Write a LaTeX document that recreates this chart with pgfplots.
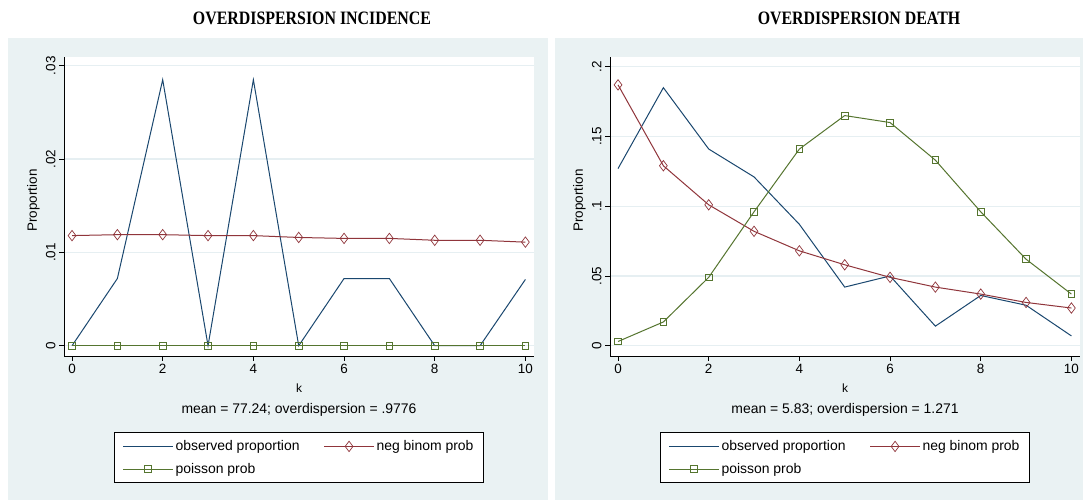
\documentclass[border=0pt]{standalone}
\usepackage{fontspec}
\setmainfont{Liberation Sans}
\newfontfamily\titlefont{Liberation Serif}
\usepackage{pgfplots}
\pgfplotsset{compat=1.18}
\definecolor{sblue}{HTML}{1A476F}
\definecolor{smaroon}{HTML}{90353B}
\definecolor{sgreen}{HTML}{55752F}
\definecolor{sbg}{HTML}{EAF2F3}
\definecolor{sgrid}{HTML}{E6EFF2}

\pgfplotsset{
  statastyle/.style={
    scale only axis, width=470bp, height=299bp,
    axis x line=bottom, axis y line=left,
    axis line style={-, black, line width=0.8bp},
    tick align=outside, major tick length=5bp,
    tick style={black, line width=0.8bp},
    xmin=-0.177, xmax=10.19, xtick={0,2,...,10},
    scaled ticks=false,
    /pgf/number format/assume math mode=true,
    ymajorgrids, grid style={sgrid, line width=1.2bp},
    axis background/.style={fill=white},
    tick label style={font=\fontsize{13.5}{14}\selectfont},
    yticklabel style={rotate=90, anchor=south},
    xlabel={k}, xlabel style={font=\fontsize{12}{13}\selectfont, at={(axis description cs:0.5,-0.107)}, anchor=center},
    ylabel={Proportion}, ylabel style={font=\fontsize{13.5}{14}\selectfont, at={(axis description cs:-0.065,0.52)}, anchor=center},
    legend columns=2, legend cell align=left,
    legend style={at={(axis description cs:0.5,-0.255)}, anchor=north, draw=black, line width=0.8bp,
      fill=white, font=\fontsize{14}{14}\selectfont, inner xsep=8bp, inner ysep=6bp,
      /tikz/every even column/.append style={column sep=22bp}, row sep=7bp},
    legend image code/.code={\draw[mark repeat=2,mark phase=2,#1] plot coordinates {(0bp,0bp)(25bp,0bp)(50bp,0bp)};},
    every axis plot/.append style={line width=1bp},
    clip=false,
  },
  obs/.style={sblue, no marks},
  nb/.style={smaroon, mark=diamond, mark size=5.2bp, mark options={solid, line width=0.7bp, fill=white}},
  po/.style={sgreen, mark=square, mark size=3.4bp, mark options={solid, line width=0.8bp, fill=white}},
}

\begin{document}
\begin{tikzpicture}[x=1bp,y=1bp]
\useasboundingbox (0,0) rectangle (1083,502);
\fill[white] (0,0) rectangle (1083,502);
\fill[sbg] (8,2) rectangle (548,464);
\fill[sbg] (555,2) rectangle (1083,464);
\node[font=\titlefont\bfseries\fontsize{19}{19}\selectfont, xscale=0.84] at (312,484) {OVERDISPERSION INCIDENCE};
\node[font=\titlefont\bfseries\fontsize{19}{19}\selectfont, xscale=0.84] at (859,484) {OVERDISPERSION DEATH};

\begin{axis}[statastyle, at={(64bp,146bp)}, anchor=south west,
  ymin=-0.0011, ymax=0.03094, ytick={0,0.01,0.02,0.03}, yticklabels={0,.01,.02,.03}]
\addplot[obs] coordinates {(0,0) (1,0.0072) (2,0.0285) (3,0) (4,0.0285) (5,0) (6,0.0072) (7,0.0072) (8,0) (9,0) (10,0.0071)};
\addlegendentry{observed proportion}
\addplot[nb] coordinates {(0,0.0118) (1,0.0119) (2,0.0119) (3,0.0118) (4,0.0118) (5,0.0116) (6,0.0115) (7,0.0115) (8,0.0113) (9,0.0113) (10,0.0111)};
\addlegendentry{neg binom prob}
\addplot[po] coordinates {(0,0) (1,0) (2,0) (3,0) (4,0) (5,0) (6,0) (7,0) (8,0) (9,0) (10,0)};
\addlegendentry{poisson prob}
\node[font=\fontsize{14}{14}\selectfont] at (axis description cs:0.5,-0.181) {mean = 77.24; overdispersion = .9776};
\end{axis}

\begin{axis}[statastyle, at={(610bp,146bp)}, anchor=south west,
  ymin=-0.0074, ymax=0.207, ytick={0,0.05,0.1,0.15,0.2}, yticklabels={0,.05,.1,.15,.2}]
\addplot[obs] coordinates {(0,0.127) (1,0.185) (2,0.141) (3,0.121) (4,0.087) (5,0.042) (6,0.050) (7,0.014) (8,0.036) (9,0.029) (10,0.007)};
\addlegendentry{observed proportion}
\addplot[nb] coordinates {(0,0.187) (1,0.129) (2,0.101) (3,0.082) (4,0.068) (5,0.058) (6,0.049) (7,0.042) (8,0.037) (9,0.031) (10,0.027)};
\addlegendentry{neg binom prob}
\addplot[po] coordinates {(0,0.003) (1,0.017) (2,0.049) (3,0.096) (4,0.141) (5,0.165) (6,0.160) (7,0.133) (8,0.096) (9,0.062) (10,0.037)};
\addlegendentry{poisson prob}
\node[font=\fontsize{14}{14}\selectfont] at (axis description cs:0.5,-0.181) {mean = 5.83; overdispersion = 1.271};
\end{axis}
\end{tikzpicture}
\end{document}
